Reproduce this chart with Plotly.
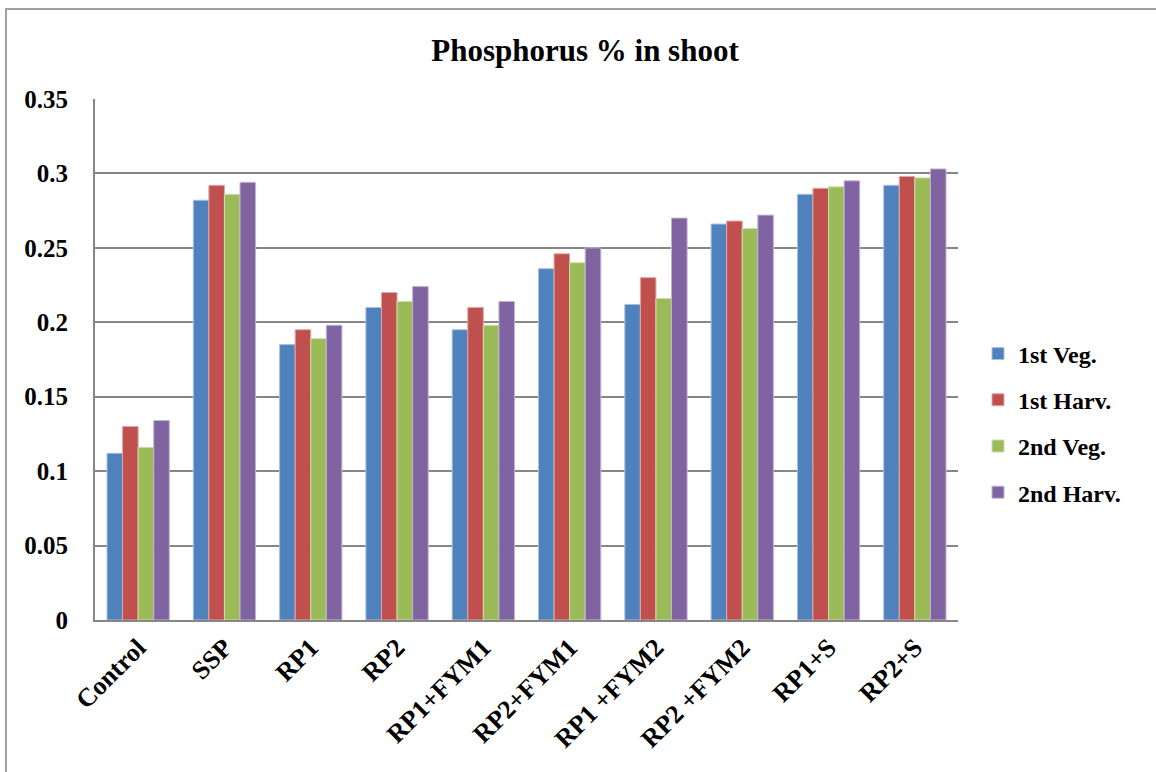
import plotly.graph_objects as go

categories = ["Control", "SSP", "RP1", "RP2", "RP1+FYM1", "RP2+FYM1",
              "RP1 +FYM2", "RP2 +FYM2", "RP1+S", "RP2+S"]
veg1 = [0.112, 0.282, 0.185, 0.210, 0.195, 0.236, 0.212, 0.266, 0.286, 0.292]
harv1 = [0.130, 0.292, 0.195, 0.220, 0.210, 0.246, 0.230, 0.268, 0.290, 0.298]
veg2 = [0.116, 0.286, 0.189, 0.214, 0.198, 0.240, 0.216, 0.263, 0.291, 0.297]
harv2 = [0.134, 0.294, 0.198, 0.224, 0.214, 0.250, 0.270, 0.272, 0.295, 0.303]
series_names = ["1st Veg.", "1st Harv.", "2nd Veg.", "2nd Harv."]
series_values = [veg1, harv1, veg2, harv2]
colors = ["#4F81BD", "#C0504D", "#9BBB59", "#8064A2"]
edge_colors = ["#A9C0DE", "#E0A8A6", "#CDDDAC", "#C0B2D1"]

FONT = "Liberation Serif"

fig = go.Figure()
for name, vals, c, ec in zip(series_names, series_values, colors, edge_colors):
    fig.add_trace(go.Bar(
        x=categories, y=vals, name=f"<b>{name}</b>", legendgroup=name,
        marker=dict(color=c, line=dict(color=ec, width=1)),
    ))

W, H = 1156, 772
L, R, T, B = 95, 198, 99, 152
pw, ph = W - L - R, H - T - B

fig.update_layout(
    width=W, height=H,
    margin=dict(l=L, r=R, t=T, b=B),
    paper_bgcolor="white", plot_bgcolor="white",
    barmode="group", bargap=0.278, bargroupgap=0,
    font=dict(family=FONT, color="black"),
    title=dict(text="<b>Phosphorus % in shoot</b>", x=(585 / W), xanchor="center",
               xref="container",
               y=1 - 50 / H, yanchor="middle", yref="container",
               font=dict(family=FONT, size=31, color="black")),
    legend=dict(
        x=978 / W, xref="container", xanchor="left",
        y=1 - 423 / H, yref="container", yanchor="middle",
        font=dict(family=FONT, size=24, color="black"),
        traceorder="grouped", tracegroupgap=12,
        itemwidth=30,
    ),
    showlegend=True,
    shapes=[dict(type="rect", xref="paper", yref="paper",
                 x0=(6 - L) / pw, x1=(W + 20 - L) / pw,
                 y0=(H - B - (H + 20)) / ph, y1=(H - B - 9) / ph,
                 line=dict(color="#A0A0A0", width=2), fillcolor="rgba(0,0,0,0)",
                 layer="below")],
)

fig.update_xaxes(
    type="category", tickangle=-45,
    tickfont=dict(family=FONT, size=26, color="black"),
    showline=True, linecolor="#868686", linewidth=2,
    showgrid=False, ticks="",
)
fig.update_yaxes(
    range=[0, 0.35], dtick=0.05, tick0=0,
    tickfont=dict(family=FONT, size=25, color="black"),
    tickformat="~g",
    showline=True, linecolor="#868686", linewidth=2,
    showgrid=True, gridcolor="#868686", gridwidth=2,
    zeroline=False, ticks="", ticklabelstandoff=20,
)

fig.update_xaxes(tickprefix="<b>", ticksuffix="</b>")
fig.update_yaxes(tickprefix="<b>", ticksuffix="</b>")

fig.write_html("out.html")
